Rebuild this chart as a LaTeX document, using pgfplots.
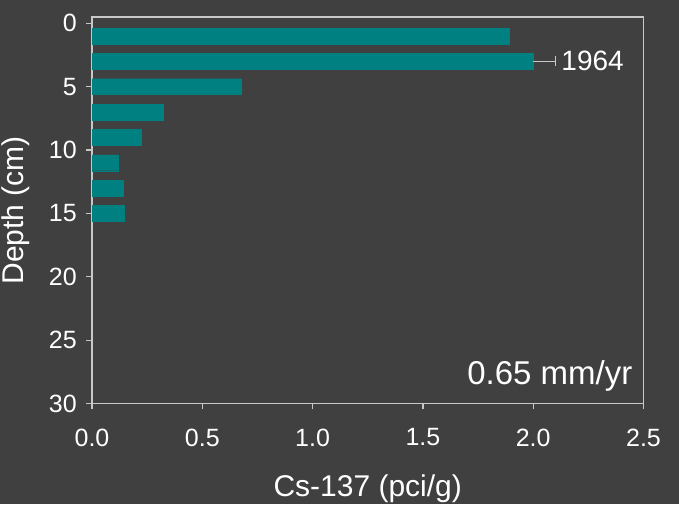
\documentclass[border=0pt]{standalone}
\usepackage{pgfplots}
\pgfplotsset{compat=1.18}
\usepackage{fontspec}
\setmainfont{Liberation Sans}
\definecolor{bgc}{RGB}{64,64,64}
\definecolor{barc}{RGB}{0,128,128}
\definecolor{axc}{RGB}{200,200,200}
\begin{document}
\begin{tikzpicture}
\useasboundingbox (0,0) rectangle (679pt,504pt);
\fill[bgc] (0,0) rectangle (679pt,504pt);
\begin{axis}[
  at={(92pt,100.5pt)}, anchor=south west,
  scale only axis, width=551.5pt, height=386.5pt,
  xmin=0, xmax=2.5, ymin=-0.5, ymax=30,
  y dir=reverse,
  xtick={0,0.5,...,2.5}, ytick={0,5,...,30},
  xticklabel style={/pgf/number format/fixed,/pgf/number format/fixed zerofill,/pgf/number format/precision=1},
  xtick pos=bottom, ytick pos=left,
  tick align=outside, major tick length=5.7pt,
  axis line style={axc, line width=1.2pt},
  tick style={axc, line width=1.2pt},
  /pgf/number format/assume math mode=true,
  tick label style={white, font=\fontsize{25}{30}\selectfont},
  xticklabel style={yshift=-16pt},
  yticklabel style={xshift=-6pt},
  label style={white, font=\fontsize{30}{36}\selectfont},
  xlabel={Cs-137 (pci/g)},
  ylabel={Depth (cm)},
  xlabel style={at={(axis description cs:0.5,-0.2411)}, anchor=base},
  ylabel style={at={(axis description cs:-0.1233,0.5)}, anchor=base},
  clip=false,
]
\addplot[xbar, bar width=1.26, fill=barc, draw=barc] coordinates {
  (1.89,1) (2.00,3) (0.675,5) (0.323,7) (0.222,9) (0.121,11) (0.140,13) (0.145,15)
};
\addplot[draw=none, mark=none, forget plot,
  error bars/.cd, x dir=plus, x explicit,
  error bar style={axc, line width=1pt},
  error mark options={axc, line width=1pt, mark size=5pt, rotate=90}]
  coordinates {(2.00,3) +- (0.10,0)};
\node[anchor=west, inner sep=0pt, text=white, font=\fontsize{28}{33}\selectfont]
  at (axis cs:2.1,3) [xshift=6pt] {1964};
\node[anchor=base east, inner sep=0pt, text=white, font=\fontsize{33}{39}\selectfont]
  at (rel axis cs:1,0) [xshift=-11pt, yshift=19.5pt] {0.65 mm/yr};
\end{axis}
\end{tikzpicture}
\end{document}
